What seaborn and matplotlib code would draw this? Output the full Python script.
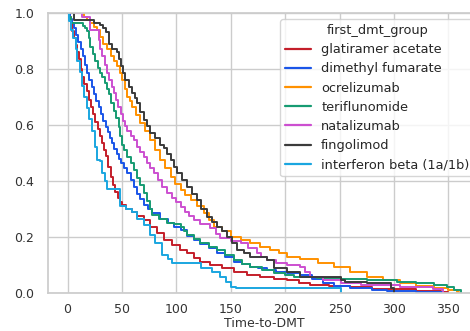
import matplotlib
matplotlib.use("Agg")
import matplotlib.pyplot as plt
import seaborn as sns
import pandas as pd

groups = ["glatiramer acetate", "dimethyl fumarate", "ocrelizumab", "teriflunomide",
          "natalizumab", "fingolimod", "interferon beta (1a/1b)"]
colors = ["#c41e2a", "#1a55e8", "#ff9100", "#169b72", "#cc4fd0", "#3b3b3b", "#1aa6e0"]

glat_t = [0, 1.5, 3, 4.5, 6, 7.5, 9, 10.5, 12, 13.5, 15.5, 17.5, 19.5, 21.5, 23.5, 25.5, 27.5, 29.5, 31.5,
          33.5, 35, 37, 39.5, 42, 44, 46, 48, 50, 54, 59, 64, 70, 76, 82, 89, 96, 103, 110, 116, 122, 131,
          142, 153, 165, 177, 190, 202, 213, 223, 240, 260, 280, 294, 320, 343, 350]
glat_s = [1.0, 0.985, 0.96, 0.935, 0.91, 0.885, 0.86, 0.835, 0.80, 0.77, 0.745, 0.72, 0.69, 0.665, 0.64,
          0.61, 0.585, 0.56, 0.535, 0.51, 0.49, 0.45, 0.415, 0.385, 0.36, 0.34, 0.325, 0.314, 0.30, 0.29,
          0.275, 0.26, 0.235, 0.213, 0.19, 0.171, 0.155, 0.142, 0.125, 0.112, 0.10, 0.088, 0.076, 0.066,
          0.058, 0.051, 0.045, 0.037, 0.03, 0.025, 0.02, 0.016, 0.013, 0.008, 0.005, 0.0]

dmf_t = [0, 2, 4, 6, 8, 10, 12, 14, 16, 18, 20, 22, 24, 26.5, 29, 31, 33, 35, 37, 39, 41, 43, 45, 47, 49,
         52, 55, 58, 61, 64, 67, 70, 74, 78, 85, 92, 98, 104, 110, 116, 122, 130, 137.5, 145, 153, 160,
         168, 175, 183, 192, 202, 214, 225, 235, 245, 260, 280, 294, 320, 345]
dmf_s = [1.0, 0.98, 0.965, 0.945, 0.92, 0.895, 0.87, 0.845, 0.815, 0.785, 0.76, 0.735, 0.71, 0.685, 0.665,
         0.64, 0.615, 0.594, 0.575, 0.555, 0.535, 0.515, 0.495, 0.478, 0.465, 0.445, 0.43, 0.405, 0.38,
         0.355, 0.335, 0.314, 0.30, 0.285, 0.265, 0.249, 0.237, 0.225, 0.205, 0.19, 0.175, 0.16, 0.142,
         0.128, 0.112, 0.102, 0.094, 0.088, 0.082, 0.076, 0.07, 0.063, 0.05, 0.035, 0.025, 0.017, 0.012,
         0.008, 0.005, 0.0]

ocr_t = [0, 13.5, 15, 18, 21, 24, 27, 30, 33, 36, 39.5, 42.5, 45.6, 48, 50, 52.5, 55, 57, 59.4, 63, 67, 71,
         76, 80, 85, 90, 94.6, 99, 104, 108, 113, 119, 125, 130, 134.4, 142, 150, 159, 168, 177, 186.5,
         194, 202, 214, 230, 245, 260, 275, 290, 306, 320, 336.5, 350, 358, 360]
ocr_s = [1.0, 1.0, 0.985, 0.975, 0.963, 0.95, 0.94, 0.915, 0.89, 0.87, 0.845, 0.83, 0.81, 0.785, 0.76,
         0.73, 0.70, 0.685, 0.665, 0.635, 0.606, 0.58, 0.546, 0.51, 0.475, 0.445, 0.415, 0.39, 0.368,
         0.35, 0.332, 0.31, 0.285, 0.26, 0.237, 0.22, 0.201, 0.19, 0.178, 0.165, 0.154, 0.142, 0.13,
         0.122, 0.108, 0.094, 0.076, 0.058, 0.046, 0.035, 0.026, 0.017, 0.01, 0.005, 0.0]

ter_t = [0, 1.5, 3, 12, 14, 16, 18, 19.5, 21, 23, 25.5, 28, 30, 32, 34, 36, 38, 40, 42.5, 44.5, 47, 48.5,
         50, 52, 55, 58, 61, 64, 67, 70, 73, 76, 78, 84, 91.6, 98, 104, 107, 110, 116, 122, 130, 137.5,
         145, 153, 160, 168, 179, 189.5, 200, 208, 229, 251, 275, 300, 303, 320, 336.5, 349, 355, 362]
ter_s = [1.0, 0.985, 0.965, 0.965, 0.955, 0.945, 0.935, 0.91, 0.88, 0.855, 0.83, 0.805, 0.785, 0.77,
         0.75, 0.73, 0.71, 0.68, 0.65, 0.625, 0.594, 0.56, 0.53, 0.51, 0.487, 0.465, 0.44, 0.41, 0.385,
         0.356, 0.33, 0.30, 0.28, 0.265, 0.249, 0.245, 0.237, 0.22, 0.207, 0.193, 0.178, 0.165, 0.154,
         0.135, 0.118, 0.105, 0.094, 0.082, 0.07, 0.063, 0.058, 0.052, 0.05, 0.048, 0.046, 0.04, 0.035,
         0.029, 0.022, 0.01, 0.0]

nat_t = [0, 12, 13, 20, 20.5, 27, 28.5, 30, 32, 34, 36.5, 38.5, 40.5, 42.5, 44.5, 46.5, 48.7, 51, 53, 55,
         58, 61, 64, 67, 70, 73, 76, 79, 83, 87, 91.6, 96, 100, 104, 108, 112, 116, 122, 131, 136, 140.5,
         150, 159, 166, 174, 178, 183, 192, 202, 214, 218, 223, 235, 251, 270, 291, 306, 336, 345]
nat_s = [1.0, 1.0, 0.985, 0.985, 0.94, 0.94, 0.905, 0.87, 0.845, 0.815, 0.785, 0.76, 0.735, 0.713, 0.69,
         0.665, 0.64, 0.615, 0.595, 0.58, 0.56, 0.546, 0.52, 0.505, 0.487, 0.465, 0.445, 0.427, 0.405,
         0.38, 0.356, 0.34, 0.325, 0.308, 0.29, 0.275, 0.26, 0.245, 0.231, 0.21, 0.195, 0.187, 0.178,
         0.16, 0.142, 0.13, 0.118, 0.108, 0.10, 0.094, 0.075, 0.058, 0.045, 0.035, 0.03, 0.028, 0.02,
         0.013, 0.0]

fin_t = [0, 5, 6, 24, 30, 33, 35, 38, 41, 45.6, 47, 48.7, 51, 53, 56, 59.4, 62, 64, 67, 70, 73, 76, 80, 85,
         88.5, 91, 94.6, 98, 101, 105, 110, 114, 119, 123, 128, 133, 137.5, 142, 146.7, 151, 156, 162,
         168, 183, 189.5, 202, 214, 251, 255, 275, 297, 300]
fin_s = [1.0, 1.0, 0.975, 0.963, 0.957, 0.945, 0.933, 0.89, 0.87, 0.862, 0.835, 0.81, 0.785, 0.76, 0.735,
         0.713, 0.695, 0.677, 0.645, 0.618, 0.595, 0.57, 0.555, 0.53, 0.517, 0.495, 0.475, 0.45, 0.427,
         0.405, 0.38, 0.355, 0.332, 0.30, 0.272, 0.255, 0.237, 0.22, 0.201, 0.178, 0.154, 0.142, 0.13,
         0.118, 0.088, 0.076, 0.058, 0.046, 0.04, 0.035, 0.017, 0.0]

ifn_t = [0, 1.5, 3, 5, 7.3, 9, 11, 13.5, 15.5, 17.5, 19.6, 22.7, 25, 27, 30, 32, 34, 36.5, 47, 48, 54, 59.4,
         64, 70, 76, 80, 87, 92, 96, 122, 123, 133, 140.5, 146, 150, 155, 250, 251]
ifn_s = [1.0, 0.97, 0.94, 0.91, 0.87, 0.83, 0.79, 0.74, 0.70, 0.66, 0.62, 0.58, 0.52, 0.475, 0.47, 0.43,
         0.40, 0.37, 0.37, 0.31, 0.30, 0.29, 0.265, 0.243, 0.207, 0.18, 0.136, 0.12, 0.106, 0.106, 0.088,
         0.075, 0.058, 0.04, 0.022, 0.018, 0.018, 0.0]

series = [(glat_t, glat_s), (dmf_t, dmf_s), (ocr_t, ocr_s), (ter_t, ter_s),
          (nat_t, nat_s), (fin_t, fin_s), (ifn_t, ifn_s)]

rows = []
for g, (ts, ss) in zip(groups, series):
    for t, s in zip(ts, ss):
        rows.append({"first_dmt_group": g, "Time-to-DMT": t, "survival": s})
df = pd.DataFrame(rows)

sns.set_theme(style="whitegrid")
plt.rcParams["font.family"] = ["DejaVu Sans"]
fs = 9

fig = plt.figure(figsize=(4.7, 3.31), dpi=100)
ax = fig.add_axes([48 / 470, 38 / 331, 433 / 470, 280 / 331])
sns.lineplot(data=df, x="Time-to-DMT", y="survival", hue="first_dmt_group",
             hue_order=groups, palette=colors, drawstyle="steps-post",
             estimator=None, sort=False, linewidth=1.4, ax=ax)
ax.set_xlim(-18, 380)
ax.set_ylim(0, 1.0)
ax.set_xticks([0, 50, 100, 150, 200, 250, 300, 350])
ax.set_yticks([0.0, 0.2, 0.4, 0.6, 0.8, 1.0])
ax.set_yticklabels(["0.0", "0.2", "0.4", "0.6", "0.8", "1.0"])
ax.tick_params(axis="x", labelsize=fs, colors="#333333", pad=1)
ax.tick_params(axis="y", labelsize=fs, colors="#333333", pad=4)
ax.set_xlabel("Time-to-DMT", fontsize=fs, color="#333333", labelpad=1)
ax.set_ylabel("")
leg = ax.legend(title="first_dmt_group", loc="upper left", fontsize=9.25, title_fontsize=9.25,
                labelspacing=0.48, borderaxespad=0.0,
                bbox_to_anchor=(280 / 470, 1 - 19 / 331), bbox_transform=fig.transFigure)
for line in leg.get_lines():
    line.set_linewidth(1.6)
fig.savefig("out.png", dpi=100)
